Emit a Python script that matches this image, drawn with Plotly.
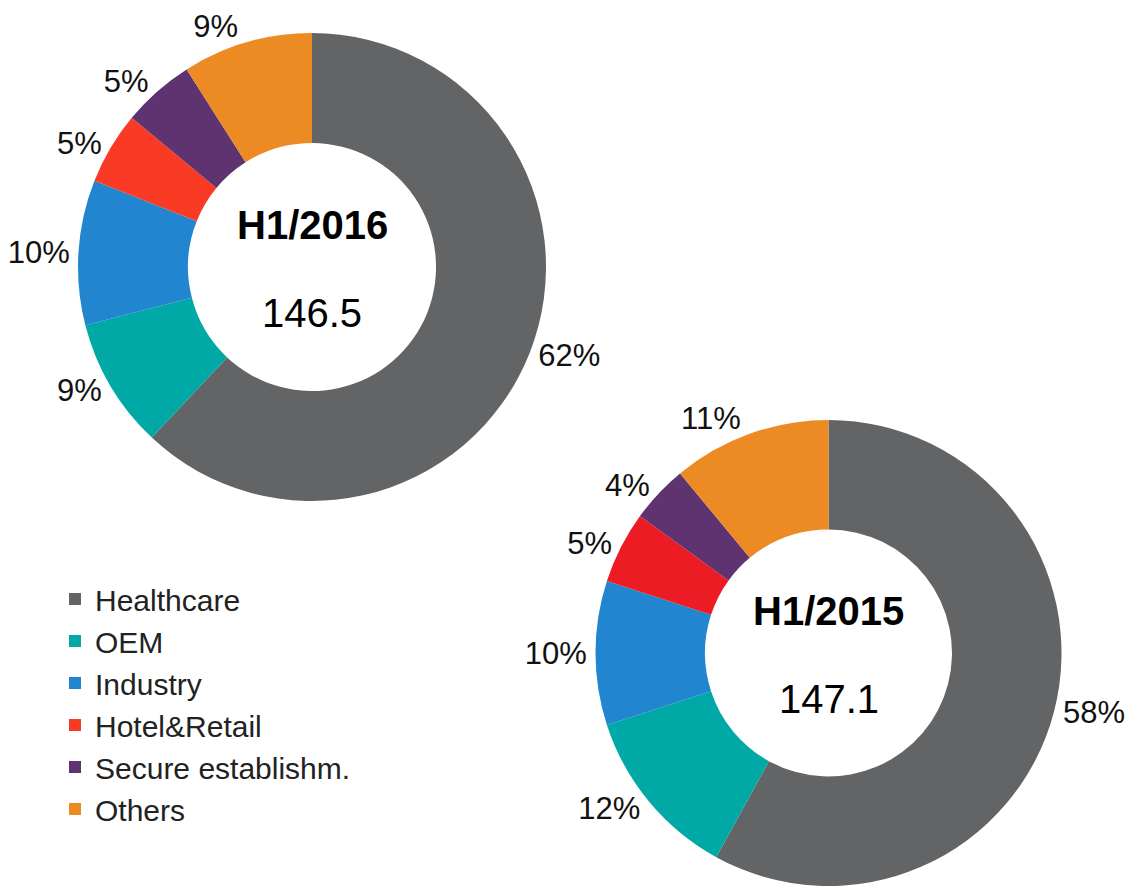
import plotly.graph_objects as go

categories = ["Healthcare", "OEM", "Industry", "Hotel&Retail", "Secure establishm.", "Others"]
values_2016 = [62, 9, 10, 5, 5, 9]
values_2015 = [58, 12, 10, 5, 4, 11]
colors_2016 = ["#636466", "#00A9A5", "#2185D0", "#F93B26", "#5E3370", "#EC8A23"]
colors_2015 = ["#636466", "#00A9A5", "#2185D0", "#ED1C24", "#5E3370", "#EC8A23"]
titles = ["H1/2016", "H1/2015"]
totals = ["146.5", "147.1"]

W, H = 1137, 889
OFF = 8  # page body margin offset
FONT = "Liberation Sans, Arial, sans-serif"


def px_x(x):
    return (x - OFF) / W


def px_y(y):
    return 1 - (y - OFF) / H


def dom(cx, cy, r):
    # domain box whose inscribed circle has radius r
    return dict(x=[px_x(cx - r), px_x(cx + r)],
                y=[px_y(cy + r), px_y(cy - r)])


fig = go.Figure()
fig.add_trace(go.Pie(
    labels=categories, values=values_2016, hole=0.53, sort=False,
    direction="clockwise", rotation=0,
    marker=dict(colors=colors_2016, line=dict(width=0)),
    texttemplate="%{value}%", textposition="outside",
    textfont=dict(size=31, color="#111", family=FONT),
    domain=dom(312, 267, 234), name="H1/2016",
))
fig.add_trace(go.Pie(
    labels=categories, values=values_2015, hole=0.53, sort=False,
    direction="clockwise", rotation=0,
    marker=dict(colors=colors_2015, line=dict(width=0)),
    texttemplate="%{value}%", textposition="outside",
    textfont=dict(size=31, color="#111", family=FONT),
    domain=dom(828.5, 653, 233), name="H1/2015", showlegend=False,
))

centers = [(312, 267), (828.5, 653)]
for (cx, cy), t, v in zip(centers, titles, totals):
    fig.add_annotation(x=px_x(cx), y=px_y(cy - 42), xref="paper", yref="paper",
                       xanchor="center", yanchor="middle",
                       text="<b>" + t + "</b>", showarrow=False,
                       font=dict(size=40, color="#000", family=FONT))
    fig.add_annotation(x=px_x(cx), y=px_y(cy + 46), xref="paper", yref="paper",
                       xanchor="center", yanchor="middle",
                       text=v, showarrow=False,
                       font=dict(size=40, color="#000", family=FONT))

fig.update_layout(
    width=W, height=H,
    margin=dict(l=0, r=0, t=0, b=0, autoexpand=False),
    paper_bgcolor="white", plot_bgcolor="white",
    showlegend=True,
    legend=dict(x=px_x(55), y=px_y(573), xanchor="left", yanchor="top",
                font=dict(size=30, color="#222", family=FONT),
                traceorder="normal", bgcolor="rgba(0,0,0,0)"),
)

fig.write_html("out.html")
